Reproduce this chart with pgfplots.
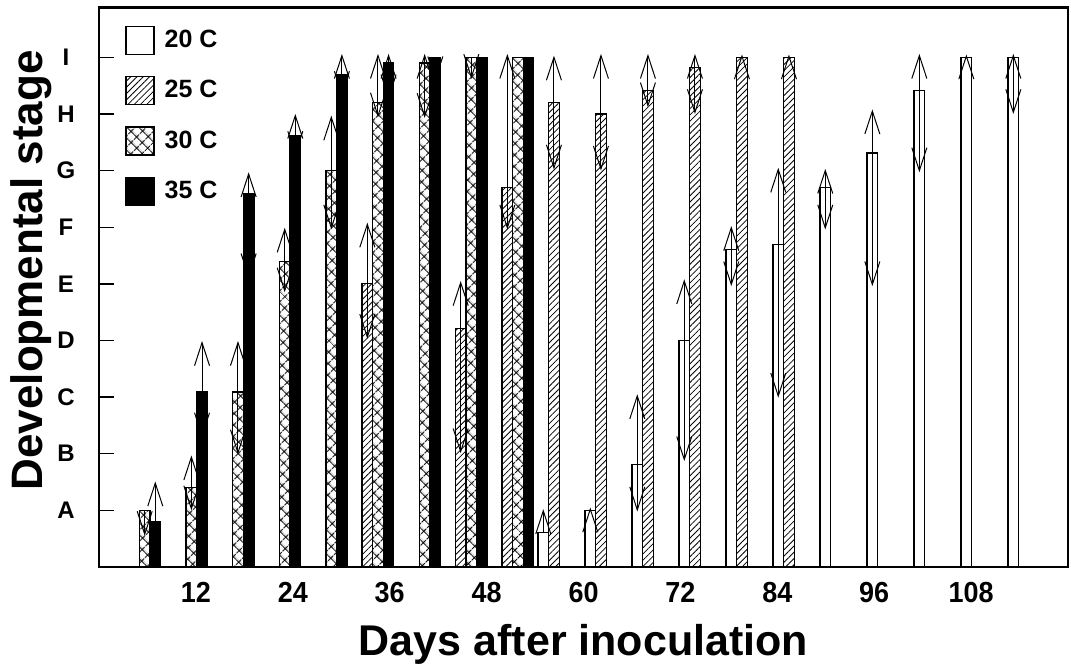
\documentclass[border=0pt]{standalone}
\usepackage{pgfplots}
\pgfplotsset{compat=1.18}
\usepackage{pgfplotstable}
\usepackage{fontspec}
\setmainfont{Liberation Sans}
\newfontfamily\cf{Liberation Sans}[FakeStretch=0.93]
\usetikzlibrary{patterns,patterns.meta,arrows.meta,calc}

% bars: x = day position of bar centre, y = stage (A=1 ... I=9)
\pgfplotstableread{
x y
55.02 0.61
60.84 1.00
66.66 1.81
72.48 4.00
78.30 5.61
84.12 5.70
89.94 6.70
95.77 7.31
101.59 8.41
107.41 9.00
113.23 9.00
}\tA
\pgfplotstableread{
x y
33.23 5.00
44.79 4.21
50.57 6.70
56.34 8.20
62.16 8.00
67.98 8.41
73.80 8.82
79.62 9.00
85.44 9.00
}\tB
\pgfplotstableread{
x y
5.66 1.00
11.44 1.40
17.21 3.09
23.00 5.40
28.77 7.00
34.55 8.20
40.33 8.90
46.11 9.00
51.89 9.00
}\tC
\pgfplotstableread{
x y
6.97 0.80
12.76 3.09
18.53 6.60
24.31 7.61
30.08 8.70
35.86 8.91
41.65 9.00
47.42 9.00
53.20 9.00
}\tD
% upper limits (arrow up)
\pgfplotstableread{
x y e
11.44 1.40 0.57
17.21 3.09 0.90
23.00 5.40 0.59
28.77 7.00 0.97
34.55 8.20 0.86
40.33 8.90 0.16
6.97 0.80 0.71
12.76 3.09 0.90
18.53 6.60 0.37
24.31 7.61 0.39
30.08 8.70 0.36
35.86 8.91 0.15
33.23 5.00 1.08
44.79 4.21 0.84
50.57 6.70 2.36
56.34 8.20 0.83
62.16 8.00 1.06
67.98 8.41 0.65
73.80 8.82 0.24
79.62 9.00 0.05
85.44 9.00 0.05
55.02 0.61 0.41
60.84 1.00 0.05
66.66 1.81 1.24
72.48 4.00 1.08
78.30 5.61 0.41
84.12 5.70 1.35
89.94 6.70 0.33
95.77 7.31 0.77
101.59 8.41 0.65
107.41 9.00 0.05
113.23 9.00 0.06
}\tUp
% lower limits (arrow down)
\pgfplotstableread{
x y e
5.66 1.00 0.45
11.44 1.40 0.40
17.21 3.09 1.10
23.00 5.40 0.55
28.77 7.00 1.04
34.55 8.20 0.26
40.33 8.90 0.97
46.11 9.00 0.38
12.76 3.09 0.80
18.53 6.60 1.50
24.31 7.61 0.35
30.08 8.70 0.38
35.86 8.91 0.65
41.65 9.00 0.42
33.23 5.00 0.97
44.79 4.21 2.20
50.57 6.70 0.74
56.34 8.20 1.18
62.16 8.00 1.00
67.98 8.41 0.29
73.80 8.82 0.82
66.66 1.81 0.83
72.48 4.00 2.13
78.30 5.61 0.65
84.12 5.70 2.71
89.94 6.70 0.74
95.77 7.31 2.35
101.59 8.41 1.44
113.23 9.00 1.00
}\tDown

\begin{document}
\begin{tikzpicture}
\begin{axis}[
  scale only axis,
  width=484.5pt, height=279.75pt,
  xmin=0, xmax=120, ymin=0, ymax=9.88,
  axis line style={line width=1.1pt},
  xtick={12,24,36,48,60,72,84,96,108},
  xticklabels={12,24,36,48,60,72,84,96,108},
  x tick style={draw=none},
  xticklabel style={font=\cf\bfseries\fontsize{14.5}{14.5}\selectfont, anchor=base, yshift=-18pt},
  ytick={1,...,9},
  yticklabels={A,B,C,D,E,F,G,H,I},
  ytick pos=left, tick align=inside,
  major tick length=7.5pt,
  y tick style={line width=0.7pt, black},
  yticklabel style={font=\bfseries\fontsize{12}{12}\selectfont, anchor=center, xshift=-16.5pt},
  xlabel={Days after inoculation},
  xlabel style={font=\bfseries\fontsize{21.5}{21.5}\selectfont, at={(axis description cs:0.5,0)}, anchor=base, yshift=-44.5pt},
  ylabel={Developmental stage},
  ylabel style={font=\bfseries\fontsize{22}{22}\selectfont, at={(axis description cs:0,0.5)}, anchor=center, yshift=34pt, xshift=8.5pt},
  legend style={draw=none, fill=none, at={(0,1)}, anchor=north west, xshift=13pt, yshift=-9pt,
    font=\bfseries\fontsize{12.5}{12.5}\selectfont, row sep=10.5pt, column sep=3pt, inner sep=0pt,
    legend cell align=left},
  legend image code/.code={\draw[#1, line width=0.6pt] (0pt,-7pt) rectangle (14pt,7pt);},
  clip=false,
]
\addplot[ybar, bar width=5.3pt, bar shift=0pt, draw=black, line width=0.6pt, fill=white] table[x=x,y=y] {\tA};
\addlegendentry{20 C}
\addplot[ybar, bar width=5.3pt, bar shift=0pt, draw=black, line width=0.6pt,
  pattern={Lines[angle=45, distance=2.2pt, line width=0.4pt]}] table[x=x,y=y] {\tB};
\addlegendentry{25 C}
\addplot[ybar, bar width=5.3pt, bar shift=0pt, draw=black, line width=0.6pt,
  pattern={Hatch[angle=45, distance=4pt, line width=0.55pt]}] table[x=x,y=y] {\tC};
\addlegendentry{30 C}
\addplot[ybar, bar width=5.3pt, bar shift=0pt, draw=black, line width=0.6pt, fill=black] table[x=x,y=y] {\tD};
\addlegendentry{35 C}
\addplot[forget plot, draw=none, mark=none,
  error bars/.cd, y dir=plus, y explicit, error mark=none,
  error bar style={draw=black, line width=0.5pt, solid, -{Straight Barb[length=11.5pt, width=7.5pt]}}]
  table[x=x, y=y, y error=e] {\tUp};
\addplot[forget plot, draw=none, mark=none,
  error bars/.cd, y dir=minus, y explicit, error mark=none,
  error bar style={draw=black, line width=0.5pt, solid, -{Straight Barb[length=11.5pt, width=7.5pt]}}]
  table[x=x, y=y, y error=e] {\tDown};
\end{axis}
\pgfresetboundingbox
\path ($(current axis.south west)+(-49.5pt,-50.5pt)$) rectangle ($(current axis.north east)+(1.5pt,3.75pt)$);
\end{tikzpicture}
\end{document}
